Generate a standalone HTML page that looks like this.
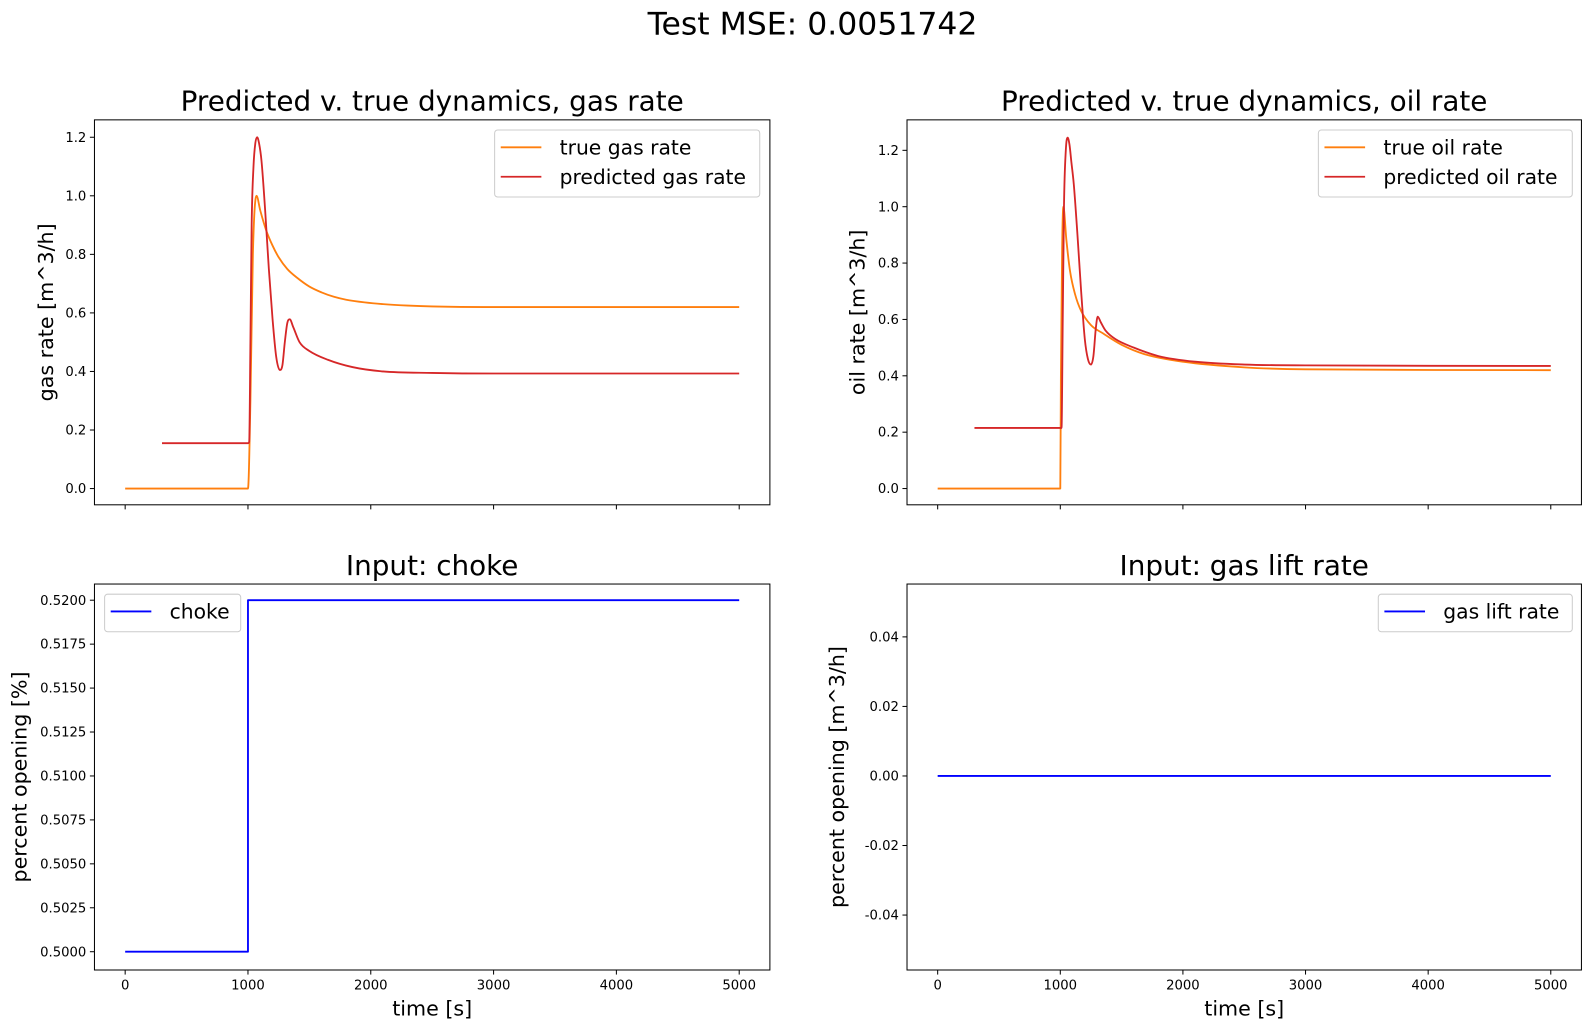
<!DOCTYPE html>
<html><head><meta charset="utf-8"><style>
html,body{margin:0;padding:0;background:#fff;overflow:hidden;width:1592px;height:1028px;}
svg{display:block;font-family:"DejaVu Sans","Liberation Sans",sans-serif;}
</style></head><body>
<svg id="fig" width="1592" height="1028" viewBox="0 0 1567.4 1012.1" xmlns="http://www.w3.org/2000/svg">
<rect width="1567.4" height="1012.1" fill="#fff"/>
<text x="800" y="34" font-size="31" text-anchor="middle">Test MSE: 0.0051742</text>
</svg>
<script>
const xTicks=[0,1000,2000,3000,4000,5000];
const trueGasT=[0,995,1000,1020,1040,1070,1100,1150,1200,1250,1320,1400,1500,1600,1700,1800,1950,2100,2300,2500,3000,4000,5000];
const trueGasV=[0,0,0,0.3,0.8,1.0,0.95,0.88,0.83,0.79,0.75,0.72,0.69,0.67,0.655,0.645,0.636,0.63,0.625,0.622,0.62,0.62,0.62];
const predGasT=[300,1000,1010,1020,1030,1045,1060,1075,1090,1110,1140,1170,1200,1230,1260,1280,1300,1320,1340,1370,1420,1500,1650,1850,2100,2500,3000,5000];
const predGasV=[0.155,0.155,0.16,0.5,0.9,1.1,1.18,1.2,1.18,1.12,0.95,0.75,0.58,0.45,0.405,0.42,0.5,0.565,0.578,0.55,0.5,0.47,0.44,0.415,0.4,0.395,0.393,0.393];
const trueOilT=[0,1000,1005,1015,1025,1050,1080,1120,1170,1250,1350,1500,1700,2000,2500,3000,5000];
const trueOilV=[0,0,0.4,0.85,1.0,0.88,0.77,0.69,0.63,0.58,0.55,0.51,0.475,0.45,0.43,0.423,0.42];
const predOilT=[300,1000,1010,1020,1030,1045,1060,1075,1090,1110,1140,1170,1200,1225,1250,1270,1290,1305,1330,1370,1450,1600,1800,2100,2500,3000,5000];
const predOilV=[0.215,0.215,0.215,0.6,1.0,1.2,1.245,1.22,1.16,1.08,0.9,0.7,0.53,0.46,0.44,0.47,0.57,0.61,0.59,0.56,0.53,0.5,0.47,0.45,0.44,0.437,0.435];
const chokeT=[0,1000,1000,5000];
const chokeV=[0.5,0.5,0.52,0.52];
const liftT=[0,5000];
const liftV=[0,0];
const gasYTicks=[0,0.2,0.4,0.6,0.8,1.0,1.2];
const oilYTicks=[0,0.2,0.4,0.6,0.8,1.0,1.2];
const chokeYTicks=[0.5,0.5025,0.505,0.5075,0.51,0.5125,0.515,0.5175,0.52];
const liftYTicks=[-0.04,-0.02,0,0.02,0.04];

const NS='http://www.w3.org/2000/svg';
const fig=document.getElementById('fig');
function mk(tag,attrs,parent){const e=document.createElementNS(NS,tag);for(const k in attrs)e.setAttribute(k,attrs[k]);(parent||fig).appendChild(e);return e;}

function smoothPath(px,py){
  const n=px.length;
  if(n<3)return px.map((x,i)=>(i?'L':'M')+x.toFixed(2)+','+py[i].toFixed(2)).join('');
  const d=[],m=new Array(n);
  for(let i=0;i<n-1;i++){const h=px[i+1]-px[i];d.push(h>0?(py[i+1]-py[i])/h:0);}
  m[0]=d[0];m[n-1]=d[n-2];
  for(let i=1;i<n-1;i++){m[i]=(d[i-1]*d[i]<=0)?0:(d[i-1]+d[i])/2;}
  for(let i=0;i<n-1;i++){
    if(d[i]===0){m[i]=0;m[i+1]=0;continue;}
    const a=m[i]/d[i],b=m[i+1]/d[i],s=a*a+b*b;
    if(s>9){const t=3/Math.sqrt(s);m[i]=t*a*d[i];m[i+1]=t*b*d[i];}
  }
  let out='M'+px[0].toFixed(2)+','+py[0].toFixed(2);
  for(let i=0;i<n-1;i++){
    const h=px[i+1]-px[i];
    out+='C'+(px[i]+h/3).toFixed(2)+','+(py[i]+m[i]*h/3).toFixed(2)+' '+(px[i+1]-h/3).toFixed(2)+','+(py[i+1]-m[i+1]*h/3).toFixed(2)+' '+px[i+1].toFixed(2)+','+py[i+1].toFixed(2);
  }
  return out;
}

function panel(o){
  const g=mk('g',{});
  
  
  const sx=v=>o.L+(v-(-250))/(5500)*(o.R-o.L);
  const sy=v=>o.B-(v-o.y0)/(o.y1-o.y0)*(o.B-o.T);
  o.series.forEach(s=>{
    const px=s.t.map(sx),py=s.v.map(sy);
    const d=s.step?px.map((x,i)=>(i?'L':'M')+x.toFixed(2)+','+py[i].toFixed(2)).join(''):smoothPath(px,py);
    const p=mk('path',{d:d,fill:'none',stroke:s.color,'stroke-width':1.8,'stroke-linejoin':'round'},g);
    
    
  });
  const fr=mk('rect',{x:o.L,y:o.T,width:o.R-o.L,height:o.B-o.T,fill:'none',stroke:'#000','stroke-width':1},g);
  
  
  xTicks.forEach(t=>{
    mk('line',{x1:sx(t),x2:sx(t),y1:o.B,y2:o.B+4.5,stroke:'#000'},g);
    if(o.xlabels){const tx=mk('text',{x:sx(t),y:o.B+19,'font-size':13,'text-anchor':'middle'},g);tx.textContent=t;
      
      }
  });
  o.yticks.forEach(v=>{
    mk('line',{x1:o.L-4.5,x2:o.L,y1:sy(v),y2:sy(v),stroke:'#000'},g);
    const tx=mk('text',{x:o.L-8,y:sy(v)+4.5,'font-size':13,'text-anchor':'end'},g);tx.textContent=v.toFixed(o.dec);
    
    
  });
  const ti=mk('text',{x:(o.L+o.R)/2,y:o.T-9,'font-size':27.4,'text-anchor':'middle'},g);ti.textContent=o.title;
  
  
  const yl=mk('text',{x:0,y:0,'font-size':20.3,'text-anchor':'middle',transform:`translate(${o.ylx},${(o.T+o.B)/2}) rotate(-90)`},g);yl.textContent=o.ylabel;
  
  
  if(o.xlabels){const xl=mk('text',{x:(o.L+o.R)/2,y:o.B+45,'font-size':20.3,'text-anchor':'middle'},g);xl.textContent='time [s]';
    
    }
  const lg=mk('g',{},g);
  
  
  const lx=o.leg.x, ly=o.leg.y, lw=o.leg.w, lh=8+o.series.length*29;
  mk('rect',{x:lx,y:ly,width:lw,height:lh,rx:3,fill:'#fff','fill-opacity':0.8,stroke:'#ccc'},lg);
  o.series.forEach((s,i)=>{
    const yy=ly+17+i*29;
    mk('line',{x1:lx+6,x2:lx+46,y1:yy,y2:yy,stroke:s.color,'stroke-width':1.8},lg);
    const tx=mk('text',{x:lx+64,y:yy+7,'font-size':20},lg);tx.textContent=s.label;
    
    
  });
}
panel({name:'gas-rate-panel',L:93,R:758,T:118,B:497,y0:-0.0555,y1:1.2594,yticks:gasYTicks,dec:1,xlabels:false,
  title:'Predicted v. true dynamics, gas rate',ylabel:'gas rate [m^3/h]',ylx:52,
  series:[{id:'true-gas-rate-line',t:trueGasT,v:trueGasV,color:'#ff7f0e',label:'true gas rate'},
          {id:'predicted-gas-rate-line',t:predGasT,v:predGasV,color:'#d62728',label:'predicted gas rate'}],
  leg:{x:487,y:128,w:261}});
panel({name:'oil-rate-panel',L:893,R:1557,T:118,B:497,y0:-0.0577,y1:1.3081,yticks:oilYTicks,dec:1,xlabels:false,
  title:'Predicted v. true dynamics, oil rate',ylabel:'oil rate [m^3/h]',ylx:851,
  series:[{id:'true-oil-rate-line',t:trueOilT,v:trueOilV,color:'#ff7f0e',label:'true oil rate'},
          {id:'predicted-oil-rate-line',t:predOilT,v:predOilV,color:'#d62728',label:'predicted oil rate'}],
  leg:{x:1298,y:128,w:250}});
panel({name:'choke-panel',L:93,R:758,T:575,B:955,y0:0.49896,y1:0.52092,yticks:chokeYTicks,dec:4,xlabels:true,
  title:'Input: choke',ylabel:'percent opening [%]',ylx:26,
  series:[{id:'choke-line',t:chokeT,v:chokeV,color:'#0000ff',label:'choke',step:true}],
  leg:{x:103,y:585,w:134}});
panel({name:'gas-lift-panel',L:893,R:1557,T:575,B:955,y0:-0.0558,y1:0.0552,yticks:liftYTicks,dec:2,xlabels:true,
  title:'Input: gas lift rate',ylabel:'percent opening [m^3/h]',ylx:831,
  series:[{id:'gas-lift-line',t:liftT,v:liftV,color:'#0000ff',label:'gas lift rate',step:true}],
  leg:{x:1357,y:585,w:191}});
</script>
</body></html>
